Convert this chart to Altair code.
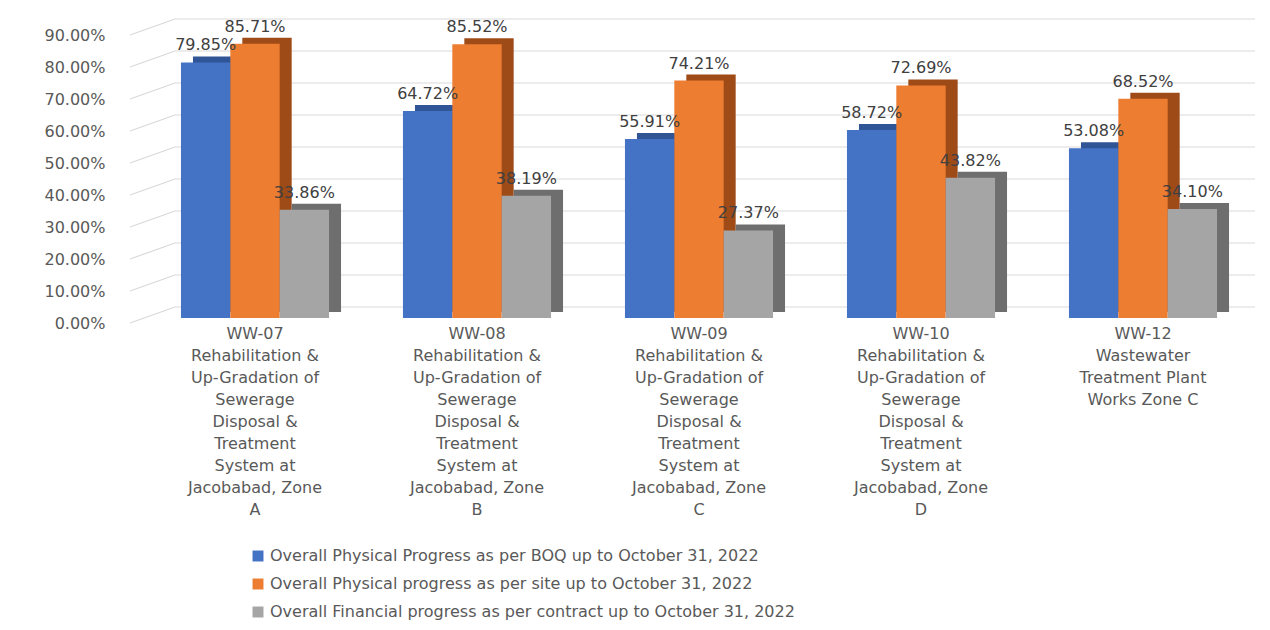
import altair as alt
import pandas as pd

categories = [
    "WW-07\nRehabilitation &\nUp-Gradation of\nSewerage\nDisposal &\nTreatment\nSystem at\nJacobabad, Zone\nA",
    "WW-08\nRehabilitation &\nUp-Gradation of\nSewerage\nDisposal &\nTreatment\nSystem at\nJacobabad, Zone\nB",
    "WW-09\nRehabilitation &\nUp-Gradation of\nSewerage\nDisposal &\nTreatment\nSystem at\nJacobabad, Zone\nC",
    "WW-10\nRehabilitation &\nUp-Gradation of\nSewerage\nDisposal &\nTreatment\nSystem at\nJacobabad, Zone\nD",
    "WW-12\nWastewater\nTreatment Plant\nWorks Zone C",
]
series = [
    "Overall Physical Progress as per BOQ up to October 31, 2022",
    "Overall Physical progress as per site up to  October 31, 2022",
    "Overall Financial progress as per contract up to October 31, 2022",
]
boq = [0.7985, 0.6472, 0.5591, 0.5872, 0.5308]
site = [0.8571, 0.8552, 0.7421, 0.7269, 0.6852]
financial = [0.3386, 0.3819, 0.2737, 0.4382, 0.3410]
tick_values = [0.0, 0.1, 0.2, 0.3, 0.4, 0.5, 0.6, 0.7, 0.8, 0.9]

front_colors = ["#4472C4", "#ED7D31", "#A5A5A5"]
side_colors = ["#2F5597", "#9E4B18", "#6E6E6E"]

rows = []
for s, vals in zip(series, [boq, site, financial]):
    for c, v in zip(categories, vals):
        rows.append({"cat": c, "series": s, "value": v})
df = pd.DataFrame(rows)
ticks_df = pd.DataFrame({"v": tick_values})

FONT = "DejaVu Sans"
W = 1110
D = 12
yscale = alt.Scale(domain=[0, 0.9], nice=False, zero=True)
xscale = alt.Scale(paddingInner=0.333, paddingOuter=0.1665)
xscale_side = alt.Scale(paddingInner=0.333, paddingOuter=0.1665, range=[D, W + D])

y_axis = alt.Axis(values=tick_values, format=".2%", grid=False, domain=False, ticks=False,
                  labelPadding=39, labelOffset=5, labelFontSize=16, labelOverlap=False,
                  labelColor="#595959", labelFont=FONT, title=None)


def y_enc(field):
    return alt.Y(field, scale=yscale, axis=y_axis, title=None)


x_enc = alt.X(
    "cat:N", sort=categories, scale=xscale, title=None,
    axis=alt.Axis(labelAngle=0, domain=False, ticks=False, labelPadding=7,
                  labelExpr="split(datum.value, '\\n')", labelLineHeight=22,
                  labelFontSize=16, labelColor="#595959", labelFont=FONT,
                  labelLimit=300, labelOverlap=False),
)
xoff = alt.XOffset("series:N", sort=series)

back_grid = alt.Chart(ticks_df).mark_rule(color="#d9d9d9", strokeWidth=1.2, yOffset=-11).encode(
    x=alt.value(31), x2=alt.value(W + 1),
    y=y_enc("v:Q"),
)
diag_grid = alt.Chart(ticks_df).mark_rule(color="#d9d9d9", strokeWidth=1.2, yOffset=5, y2Offset=-11).encode(
    x=alt.value(-14), x2=alt.value(31),
    y=y_enc("v:Q"), y2="v:Q",
)

sides = alt.Chart(df).mark_bar(yOffset=-6, y2Offset=-6).encode(
    x=alt.X("cat:N", sort=categories, scale=xscale_side, axis=None),
    xOffset=xoff,
    y=y_enc("value:Q"),
    color=alt.Color("series:N", sort=series, scale=alt.Scale(domain=series, range=side_colors), legend=None),
)

fronts = alt.Chart(df).mark_bar().encode(
    x=x_enc, xOffset=xoff,
    y=y_enc("value:Q"),
    color=alt.Color("series:N", sort=series, scale=alt.Scale(domain=series, range=front_colors),
                    legend=alt.Legend(title=None, orient="none", legendX=106, legendY=518,
                                      direction="vertical", symbolType="square", symbolSize=120,
                                      symbolStrokeWidth=0, labelFontSize=16, labelColor="#595959",
                                      labelFont=FONT, rowPadding=12, labelLimit=900)),
)

labels = alt.Chart(df).mark_text(dy=-17, fontSize=16, color="#404040", font=FONT).encode(
    x=alt.X("cat:N", sort=categories, scale=xscale, axis=None),
    xOffset=xoff,
    y=y_enc("value:Q"),
    text=alt.Text("value:Q", format=".2%"),
)

chart = alt.layer(back_grid, diag_grid, sides, fronts, labels).resolve_scale(
    color="independent", x="independent", xOffset="independent"
).properties(
    width=W, height=288,
    padding={"left": 136, "top": 22, "right": 8, "bottom": 304},
    autosize="none",
    background="white",
).configure_view(stroke=None, strokeWidth=0)

chart.save("out.html", embed_options={"renderer": "svg", "actions": False})
